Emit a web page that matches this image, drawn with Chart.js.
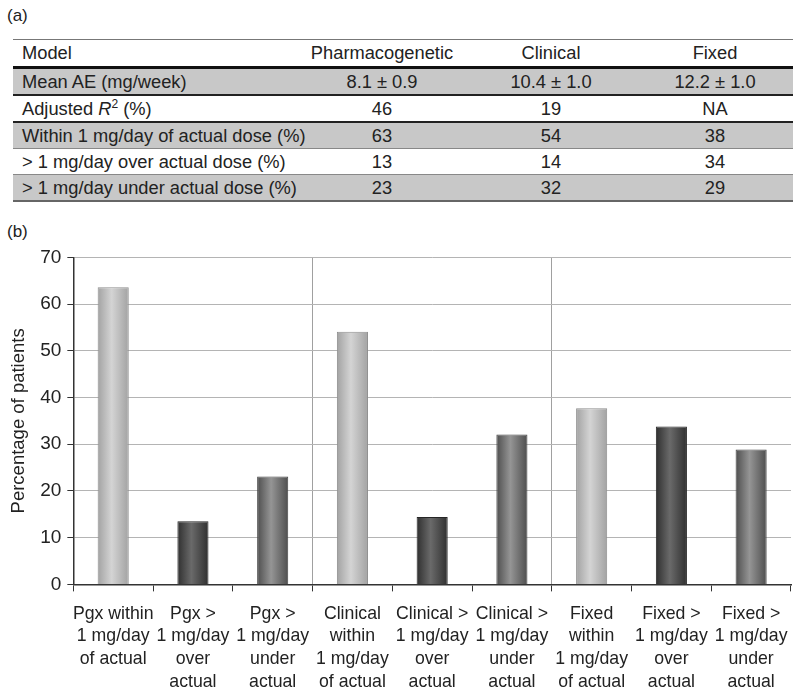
<!DOCTYPE html>
<html>
<head>
<meta charset="utf-8">
<script src="https://cdn.jsdelivr.net/npm/chart.js@4"></script>
<style>
  body { margin: 0; background: #fff; font-family: "Liberation Sans", Arial, sans-serif; color: #222; overflow: hidden; }
  #wrap { position: relative; width: 800px; height: 693px; overflow: hidden; }
  .tag { position: absolute; left: 7px; font-size: 17px; }
  table { position: absolute; left: 13px; top: 39px; width: 780px; border-collapse: collapse; font-size: 18.3px; table-layout: fixed; }
  td { height: 25px; padding: 0; text-align: center; line-height: 20px; white-space: nowrap; }
  td:first-child { text-align: left; padding-left: 9px; }
  tr.head td { border-top: 1px solid #777; border-bottom: 3px solid #111; height: 26px; }
  tr.g td { background: #c8c8c8; }
  tr.thick td { border-bottom: 2px solid #222; }
  tr.thin td { border-bottom: 1px solid #888; }
  tr.last td { border-bottom: 2px solid #666; }
  #chartBox { position: absolute; left: 0; top: 240px; width: 800px; height: 464px; }
</style>
</head>
<body>
<div id="wrap">
  <div class="tag" style="top:6px">(a)</div>
  <table>
    <colgroup><col style="width:286px"><col style="width:166px"><col style="width:172px"><col style="width:156px"></colgroup>
    <tr class="head"><td>Model</td><td>Pharmacogenetic</td><td>Clinical</td><td>Fixed</td></tr>
    <tr class="g thick"><td>Mean AE (mg/week)</td><td>8.1 ± 0.9</td><td>10.4 ± 1.0</td><td>12.2 ± 1.0</td></tr>
    <tr class="thick"><td>Adjusted <i>R</i><sup style="font-size:12px;line-height:0">2</sup> (%)</td><td>46</td><td>19</td><td>NA</td></tr>
    <tr class="g thin"><td>Within 1 mg/day of actual dose (%)</td><td>63</td><td>54</td><td>38</td></tr>
    <tr class="thin"><td>&gt; 1 mg/day over actual dose (%)</td><td>13</td><td>14</td><td>34</td></tr>
    <tr class="g last"><td>&gt; 1 mg/day under actual dose (%)</td><td>23</td><td>32</td><td>29</td></tr>
  </table>
  <div class="tag" style="top:222px">(b)</div>
  <div id="chartBox"><canvas id="barChart"></canvas></div>
</div>
<script>
  // Category labels (multi-line) for panel (b)
  const categories = [
    ['Pgx within', '1 mg/day', 'of actual'],
    ['Pgx >', '1 mg/day', 'over', 'actual'],
    ['Pgx >', '1 mg/day', 'under', 'actual'],
    ['Clinical', 'within', '1 mg/day', 'of actual'],
    ['Clinical >', '1 mg/day', 'over', 'actual'],
    ['Clinical >', '1 mg/day', 'under', 'actual'],
    ['Fixed', 'within', '1 mg/day', 'of actual'],
    ['Fixed >', '1 mg/day', 'over', 'actual'],
    ['Fixed >', '1 mg/day', 'under', 'actual']
  ];

  // Percentage of patients
  const percentValues = [63.6, 13.5, 23.1, 54.1, 14.4, 32.1, 37.7, 33.8, 28.9];

  // 0 = within, 1 = over, 2 = under
  const barKinds = [0, 1, 2, 0, 1, 2, 0, 1, 2];

  const yTicks = [0, 10, 20, 30, 40, 50, 60, 70];

  // edge / middle / border shades for each bar kind
  const shades = [
    ['#a2a2a2', '#d4d4d4', '#8e8e8e'],
    ['#2f2f2f', '#6a6a6a', '#262626'],
    ['#4e4e4e', '#959595', '#444444']
  ];

  const barPct = 0.39;

  function barFill(ctx) {
    const chart = ctx.chart;
    const xs = chart.scales.x;
    const s = shades[barKinds[ctx.dataIndex]] || shades[0];
    if (!xs || ctx.dataIndex === undefined) return s[1];
    const cx = xs.getPixelForValue(ctx.dataIndex);
    const half = (xs.width / categories.length) * barPct / 2;
    if (!isFinite(cx) || !isFinite(half) || half <= 0) return s[1];
    const g = chart.ctx.createLinearGradient(cx - half, 0, cx + half, 0);
    g.addColorStop(0, s[0]);
    g.addColorStop(0.45, s[1]);
    g.addColorStop(1, s[0]);
    return g;
  }

  new Chart(document.getElementById('barChart').getContext('2d'), {
    type: 'bar',
    data: {
      labels: categories,
      datasets: [{
        data: percentValues,
        backgroundColor: barFill,
        borderColor: ctx => (shades[barKinds[ctx.dataIndex]] || shades[0])[2],
        borderWidth: 1,
        barPercentage: barPct,
        categoryPercentage: 1.0
      }]
    },
    options: {
      responsive: true,
      maintainAspectRatio: false,
      animation: false,
      layout: { padding: { left: 8, right: 9, top: 14, bottom: 0 } },
      plugins: { legend: { display: false }, tooltip: { enabled: false } },
      scales: {
        x: {
          offset: true,
          grid: {
            offset: true,
            color: ctx => (ctx.index === 3 || ctx.index === 6) ? '#a0a0a0' : 'rgba(0,0,0,0)',
            tickColor: '#333',
            tickLength: 7
          },
          border: { color: '#333', width: 1.5 },
          ticks: {
            color: '#222',
            font: { family: 'Liberation Sans', size: 17.7, lineHeight: 1.28 },
            padding: 11,
            maxRotation: 0,
            autoSkip: false
          }
        },
        y: {
          min: 0,
          max: 70,
          afterBuildTicks: axis => { axis.ticks = yTicks.map(v => ({ value: v })); },
          grid: { color: '#b4b4b4', tickColor: '#333', tickLength: 6 },
          border: { color: '#333', width: 1.5 },
          ticks: {
            color: '#222',
            font: { family: 'Liberation Sans', size: 19 },
            padding: 6
          },
          title: {
            display: true,
            text: 'Percentage of patients',
            color: '#222',
            font: { family: 'Liberation Sans', size: 18.5 },
            padding: { top: 0, bottom: 4 }
          }
        }
      }
    }
  });
</script>
</body>
</html>
